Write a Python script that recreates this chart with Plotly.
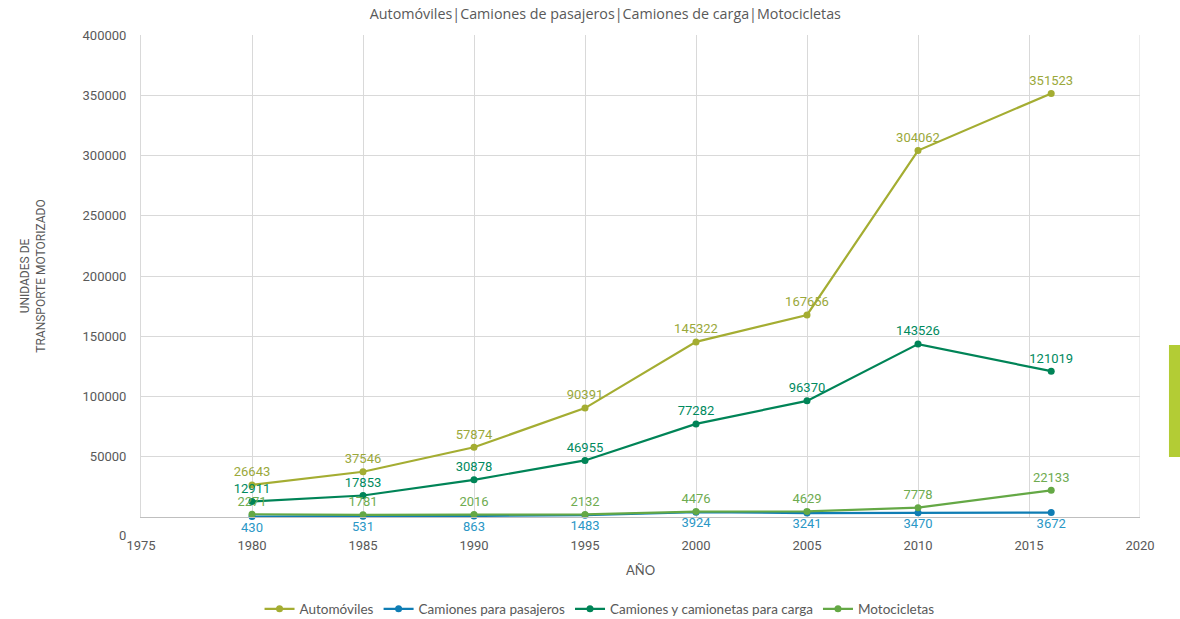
import plotly.graph_objects as go

years = [1980, 1985, 1990, 1995, 2000, 2005, 2010, 2016]
autos = [26643, 37546, 57874, 90391, 145322, 167656, 304062, 351523]
pasajeros = [430, 531, 863, 1483, 3924, 3241, 3470, 3672]
carga = [12911, 17853, 30878, 46955, 77282, 96370, 143526, 121019]
motos = [2271, 1781, 2016, 2132, 4476, 4629, 7778, 22133]

series = [
    ("Automóviles", autos, "#a4ad32", "#9aa83a", "top center"),
    ("Camiones para pasajeros", pasajeros, "#0f7db4", "#2a97c6", "bottom center"),
    ("Camiones y camionetas para carga", carga, "#008457", "#008a5e", "top center"),
    ("Motocicletas", motos, "#64a845", "#6eab50", "top center"),
]

label_font = "Liberation Sans Narrow, Roboto, Arial"
main_font = "Lato, Open Sans, sans-serif"

fig = go.Figure()
for name, vals, col, tcol, pos in series:
    fig.add_trace(go.Scatter(
        x=years, y=vals, name=name, mode="lines+markers+text",
        line=dict(color=col, width=2.2),
        marker=dict(color=col, size=7),
        text=[str(v) for v in vals], textposition=pos,
        textfont=dict(family=label_font, size=13, color=tcol),
        cliponaxis=False,
    ))

fig.update_layout(
    width=1180, height=619,
    margin=dict(l=141, r=40, t=35, b=102, autoexpand=False),
    paper_bgcolor="white", plot_bgcolor="white",
    title=dict(text="Automóviles|Camiones de pasajeros|Camiones de carga|Motocicletas",
               x=0.513, xanchor="center", y=0.977, yanchor="middle",
               font=dict(family="Open Sans, Lato, sans-serif", size=14.3, color="#595959")),
    legend=dict(orientation="h", x=0.459, xanchor="center", y=-0.191, yanchor="middle",
                font=dict(family=main_font, size=13.5, color="#595959"),
                itemwidth=30, tracegroupgap=0),
    showlegend=True,
)
fig.update_xaxes(
    range=[1975, 2020], tickmode="linear", tick0=1975, dtick=5,
    showgrid=True, gridcolor="#d9d9d9", gridwidth=1,
    showline=True, linecolor="#bfbfbf", linewidth=1, mirror=False,
    zeroline=False, ticks="", ticklabelstandoff=16, automargin=False,
    tickfont=dict(family=label_font, size=13, color="#595959"),
    title=dict(text="AÑO", font=dict(family=main_font, size=13, color="#595959"), standoff=14),
)
fig.update_yaxes(
    range=[0, 400000], tickmode="array",
    tickvals=[50000, 100000, 150000, 200000, 250000, 300000, 350000, 400000],
    ticktext=["50000", "100000", "150000", "200000", "250000", "300000", "350000", "400000"],
    showgrid=True, gridcolor="#d9d9d9", gridwidth=1,
    showline=True, linecolor="#d9d9d9", zeroline=False, ticks="",
    ticklabelstandoff=11, automargin=False,
    tickfont=dict(family=label_font, size=13, color="#595959"),
    title=dict(text="UNIDADES DE<br>TRANSPORTE MOTORIZADO",
               font=dict(family=label_font, size=12, color="#595959"), standoff=34),
)
# right gridline at 2020 (plot border)
fig.add_shape(type="line", xref="x", yref="paper", x0=2020, x1=2020, y0=0, y1=1,
              line=dict(color="#d9d9d9", width=1))
# zero label below axis
fig.add_annotation(text="0", xref="paper", yref="y", x=0, y=0, xanchor="right",
                   xshift=-13, yshift=-18, showarrow=False,
                   font=dict(family=label_font, size=13, color="#595959"))
# decorative green tab at right edge
fig.add_shape(type="rect", xref="paper", yref="paper", x0=1.029, x1=1.045,
              y0=0.1245, y1=0.357, fillcolor="#b3cc35", line=dict(width=0))

fig.write_html(
    "out.html",
    config={"displayModeBar": False},
    post_script="document.body.style.margin='0';document.body.style.overflow='hidden';",
)
